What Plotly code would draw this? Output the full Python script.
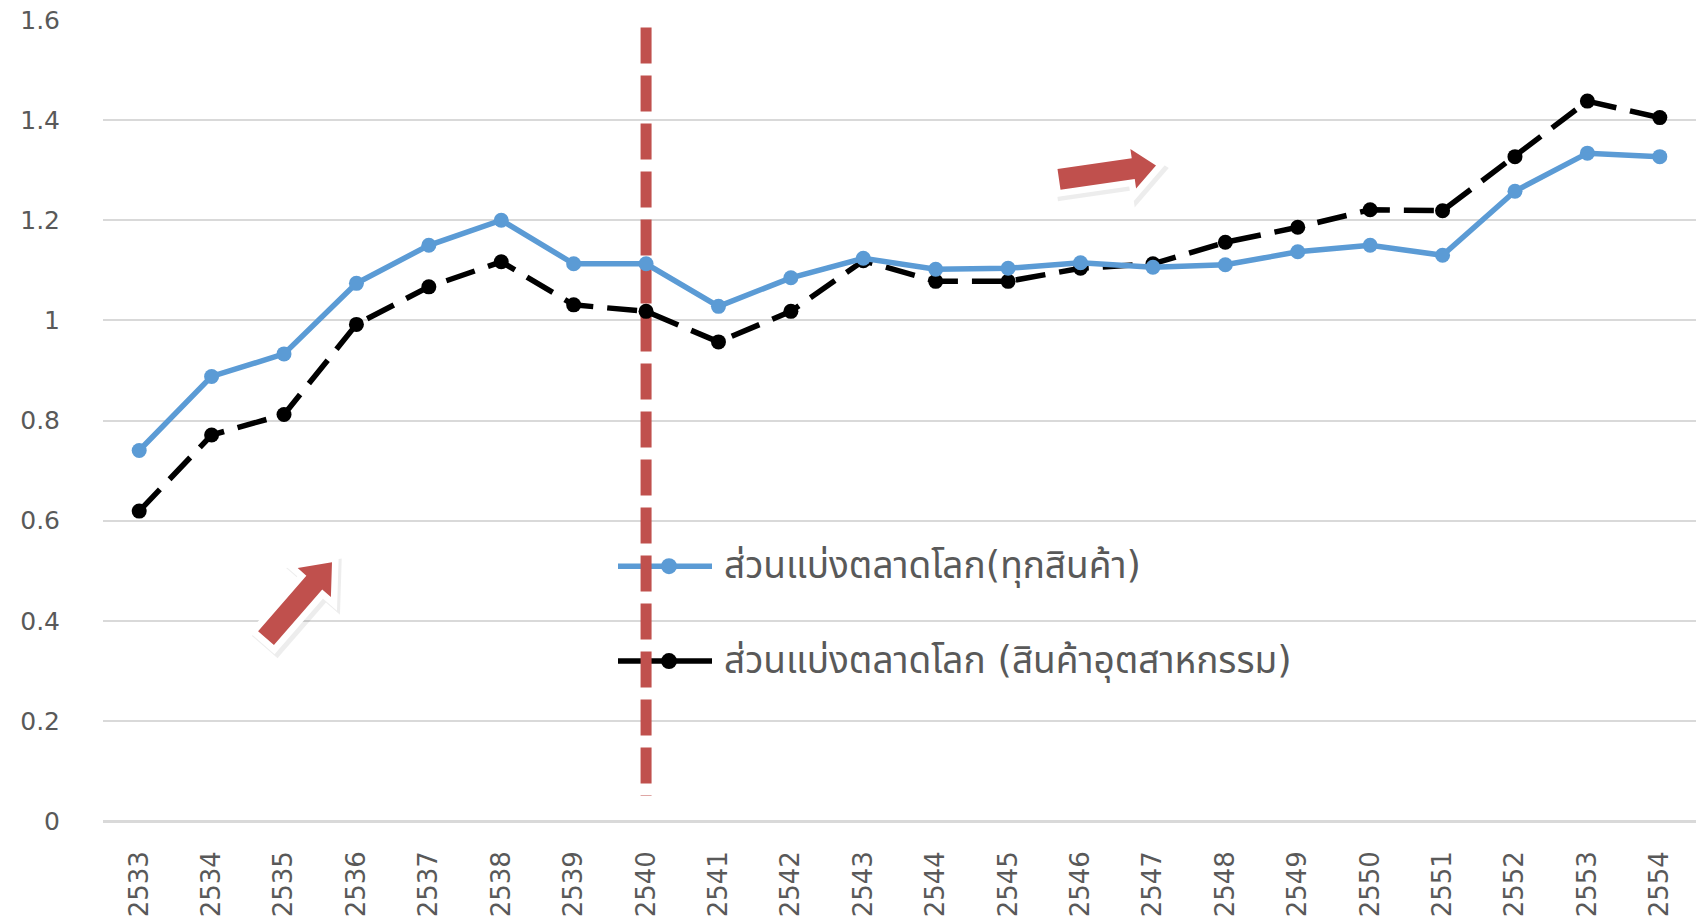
import plotly.graph_objects as go
import math

# ---- data ----
years = ["2533", "2534", "2535", "2536", "2537", "2538", "2539", "2540", "2541", "2542", "2543",
         "2544", "2545", "2546", "2547", "2548", "2549", "2550", "2551", "2552", "2553", "2554"]
share_all = [0.74, 0.888, 0.933, 1.074, 1.15, 1.20, 1.113, 1.113, 1.028, 1.085, 1.124,
             1.102, 1.104, 1.115, 1.106, 1.111, 1.137, 1.15, 1.13, 1.258, 1.334, 1.327]
share_ind = [0.619, 0.771, 0.812, 0.992, 1.067, 1.117, 1.031, 1.018, 0.957, 1.018, 1.119,
             1.078, 1.078, 1.104, 1.113, 1.156, 1.186, 1.221, 1.219, 1.327, 1.438, 1.405]
name_all = "ส่วนแบ่งตลาดโลก(ทุกสินค้า)"
name_ind = "ส่วนแบ่งตลาดโลก (สินค้าอุตสาหกรรม)"
ytick_vals = [0, 0.2, 0.4, 0.6, 0.8, 1.0, 1.2, 1.4, 1.6]
ytick_text = ["0", "0.2", "0.4", "0.6", "0.8", "1", "1.2", "1.4", "1.6"]
marker_year = "2540"
marker_range = [1.585, 0.05]

BLUE = "#5B9BD5"
RED = "#C0504D"
GREY = "#595959"
FONT = "'DejaVu Sans', Tahoma, 'Noto Sans Thai', sans-serif"

W, H = 1700, 923
L, R, T, B = 103, 1696, 19.5, 821

def px(x):
    return (x - L) / (R - L)

def py(y):
    return (B - y) / (B - T)

xi = list(range(len(years)))
mi = years.index(marker_year)

fig = go.Figure()
fig.add_trace(go.Scatter(x=[mi, mi], y=marker_range, mode="lines",
                         line=dict(color=RED, width=11, dash="36px,12px"),
                         showlegend=False, hoverinfo="skip"))
fig.add_trace(go.Scatter(x=xi, y=share_ind, mode="lines+markers", name=name_ind,
                         line=dict(color="black", width=5.5, dash="30px,14px"),
                         marker=dict(color="black", size=15), showlegend=False))
fig.add_trace(go.Scatter(x=xi, y=share_all, mode="lines+markers", name=name_all,
                         line=dict(color=BLUE, width=5.5),
                         marker=dict(color=BLUE, size=15), showlegend=False))

shapes = []
annotations = []

# custom legend
for yy, col, label in [(566, BLUE, name_all), (661, "black", name_ind)]:
    shapes.append(dict(type="line", xref="paper", yref="paper", layer="below",
                       x0=px(618), x1=px(712), y0=py(yy), y1=py(yy),
                       line=dict(color=col, width=5.5)))
    shapes.append(dict(type="circle", xref="paper", yref="paper", layer="below",
                       x0=px(669 - 8), x1=px(669 + 8), y0=py(yy + 8), y1=py(yy - 8),
                       fillcolor=col, line=dict(color=col, width=0)))
    annotations.append(dict(xref="paper", yref="paper", x=px(722), y=py(yy), text=label,
                            showarrow=False, xanchor="left", yanchor="middle",
                            font=dict(family=FONT, size=37, color=GREY)))

# block arrows
def arrow_path(t, p, w, hw, hl, off=(0, 0)):
    dx, dy = p[0] - t[0], p[1] - t[1]
    ln = math.hypot(dx, dy)
    ux, uy = dx / ln, dy / ln
    nx, ny = -uy, ux
    bx, by = p[0] - ux * hl, p[1] - uy * hl
    pts = [
        (t[0] + nx * w / 2, t[1] + ny * w / 2),
        (bx + nx * w / 2, by + ny * w / 2),
        (bx + nx * hw / 2, by + ny * hw / 2),
        (p[0], p[1]),
        (bx - nx * hw / 2, by - ny * hw / 2),
        (bx - nx * w / 2, by - ny * w / 2),
        (t[0] - nx * w / 2, t[1] - ny * w / 2),
    ]
    s = "M " + " L ".join(f"{px(x + off[0]):.5f},{py(y + off[1]):.5f}" for x, y in pts) + " Z"
    return s

for t, p, w, hw, hl in [((266, 638), (332, 562), 21, 44, 27), ((1059, 179), (1156, 165), 21, 40, 23)]:
    shapes.append(dict(type="path", xref="paper", yref="paper", layer="above",
                       path=arrow_path(t, p, w, hw, hl, off=(3, 4)),
                       fillcolor="rgba(0,0,0,0.07)", line=dict(color="rgba(0,0,0,0.07)", width=13)))
    shapes.append(dict(type="path", xref="paper", yref="paper", layer="above",
                       path=arrow_path(t, p, w, hw, hl),
                       fillcolor="white", line=dict(color="white", width=13)))
    shapes.append(dict(type="path", xref="paper", yref="paper", layer="above",
                       path=arrow_path(t, p, w, hw, hl),
                       fillcolor=RED, line=dict(color=RED, width=0)))

fig.update_layout(
    width=W, height=H,
    margin=dict(l=L, r=W - R, t=T, b=H - B, pad=0),
    paper_bgcolor="white", plot_bgcolor="white",
    shapes=shapes, annotations=annotations,
    font=dict(family=FONT, color=GREY),
)
fig.update_xaxes(range=[-0.5, len(years) - 0.5], tickvals=xi, ticktext=years, tickangle=-90,
                 showgrid=False, zeroline=False, showline=False, ticks="",
                 ticklabelstandoff=24, tickfont=dict(family=FONT, size=26, color=GREY))
fig.update_yaxes(range=[0, 1.6], tickvals=ytick_vals, ticktext=ytick_text,
                 showgrid=True, gridcolor="#D9D9D9", gridwidth=2, zeroline=True,
                 zerolinecolor="#D9D9D9", zerolinewidth=3, showline=False, ticks="",
                 ticklabelstandoff=42, tickfont=dict(family=FONT, size=25, color=GREY))

fig.write_html("out.html", config={"displayModeBar": False},
               post_script="document.body.style.margin='0';")
